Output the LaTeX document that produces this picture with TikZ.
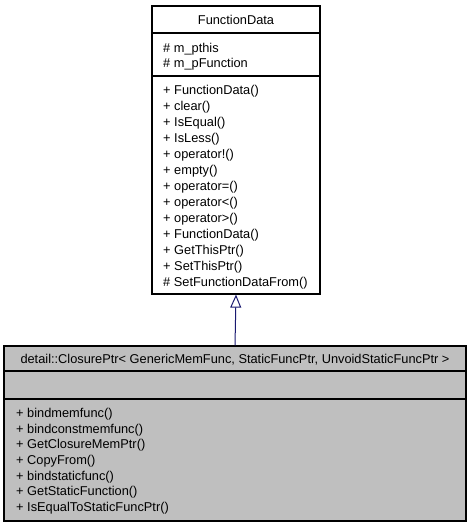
\documentclass[tikz,border=0pt]{standalone}
\usepackage{fontspec}
\setmainfont{Liberation Sans}
\usetikzlibrary{arrows.meta, positioning}
\definecolor{edgeblue}{HTML}{191970}
\definecolor{boxgray}{HTML}{BFBFBF}

\begin{document}
\begin{tikzpicture}[x=1pt, y=-1pt,
    classbox/.style={draw=black, line width=1.2pt, rectangle, inner sep=0pt},
    divider/.style={draw=black, line width=1.2pt},
    member/.style={anchor=base west, inner sep=0pt, font=\fontsize{12.8}{15}\selectfont},
    inherit/.style={draw=edgeblue, line width=1pt, -{Triangle[open, length=13pt, width=11pt]}}]
  \useasboundingbox (0,0) rectangle (472,528);
  % base class
  \node[classbox, fill=white, minimum width=168pt, minimum height=288pt] (fdata) at (236,150) {};
  \node[member, anchor=base] (fdtitle) at (236,24) {FunctionData};
  \draw[divider] (152,33) -- (320,33);
  \draw[divider] (152,76) -- (320,76);
  \node[member] (fda0) at (163,52) {\# m\_pthis};
  \node[member] (fda1) at (163,67) {\# m\_pFunction};
  \foreach \m [count=\i from 0] in {+ FunctionData(), + clear(), + IsEqual(), + IsLess(),
      + operator!(), + empty(), + operator=(), + operator<(), + operator>(),
      + FunctionData(), + GetThisPtr(), + SetThisPtr(), \# SetFunctionDataFrom()}
    \node[member] (fdm\i) at (163,94+16*\i) {\m};
  % derived class
  \node[classbox, fill=boxgray, minimum width=462pt, minimum height=175pt] (closure) at (235,433.5) {};
  \node[member, anchor=base] (cltitle) at (235,363) {detail::ClosurePtr< GenericMemFunc, StaticFuncPtr, UnvoidStaticFuncPtr >};
  \draw[divider] (4,371) -- (466,371);
  \draw[divider] (4,399) -- (466,399);
  \foreach \m [count=\i from 0] in {bindmemfunc(), bindconstmemfunc(), GetClosureMemPtr(),
      CopyFrom(), bindstaticfunc(), GetStaticFunction(), IsEqualToStaticFuncPtr()}
    \node[member] (clm\i) at (16,417.3+15.73*\i) {+ \m};
  % inheritance
  \draw[inherit] (closure.north) -- (fdata.south);
\end{tikzpicture}
\end{document}
